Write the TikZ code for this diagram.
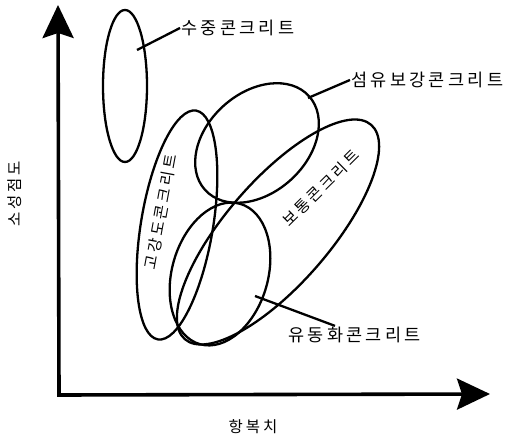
\documentclass[tikz,border=0pt]{standalone}
\usepackage{fontspec}
\newfontfamily\kr[LetterSpace=19]{Noto Sans CJK KR}
\usetikzlibrary{arrows.meta,shapes.geometric}

\begin{document}
\begin{tikzpicture}[x=1pt, y=1pt,
  oval/.style={draw, ellipse, line width=2.3pt, inner sep=0pt},
  axis/.style={line width=3.6pt, line join=miter, {Stealth[length=33pt, width=31pt, inset=5pt]}-{Stealth[length=33pt, width=31pt, inset=5pt]}},
  lead/.style={line width=2.3pt},
  lbl/.style={font=\kr\fontsize{17.5}{17.5}\selectfont, inner sep=1pt},
  inlbl/.style={font=\kr\fontsize{15.5}{15.5}\selectfont, inner sep=0pt}]
\useasboundingbox (0,0) rectangle (510,444);
% axes
\coordinate (o) at (59,49);
\coordinate (ytip) at (58,439);
\coordinate (xtip) at (490,50);
\draw[axis] (ytip) -- (o) -- (xtip);
\node[inlbl, rotate=90] (ylbl) at (15,250) {소성점도};
\node[inlbl] (xlbl) at (253,17) {항복치};
% regions
\node[oval, minimum width=44pt, minimum height=152pt] (wet) at (125,358) {};
\node[oval, minimum width=140pt, minimum height=100pt, rotate=42] (fiber) at (257,301) {};
\node[oval, minimum width=72pt, minimum height=232pt, rotate=-9.5] (high) at (177,219) {};
\node[oval, minimum width=96pt, minimum height=146pt, rotate=-16] (flow) at (220,170) {};
\node[oval, minimum width=284pt, minimum height=104pt, rotate=49] (normal) at (278,212) {};
% labels
\node[inlbl, rotate=79.5] (highlbl) at (161,232) {고강도콘크리트};
\node[inlbl, rotate=44.6] (normallbl) at (321,256) {보통콘크리트};
\node[lbl, anchor=west] (wetlbl) at (180,416) {수중콘크리트};
\node[lbl, anchor=west] (fiberlbl) at (350,364) {섬유보강콘크리트};
\node[lbl, anchor=west] (flowlbl) at (287,109) {유동화콘크리트};
\coordinate (wetpt) at (137,394);
\coordinate (fiberpt) at (308,346);
\coordinate (flowpt) at (255,148);
\draw[lead] (wetpt) -- (wetlbl.west);
\draw[lead] (fiberpt) -- (fiberlbl.west);
\draw[lead] (flowpt) -- (flowlbl.155);
\end{tikzpicture}
\end{document}
